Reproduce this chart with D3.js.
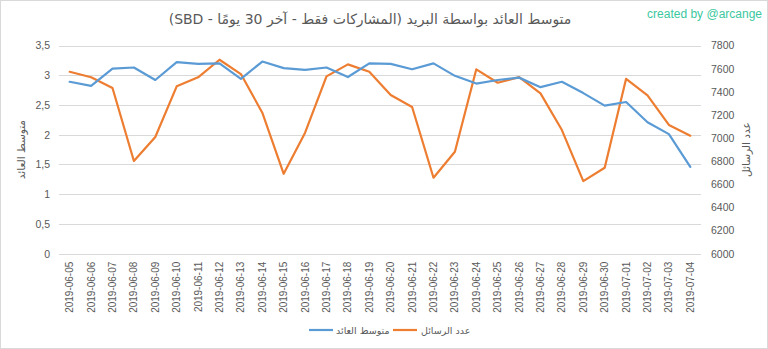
<!DOCTYPE html>
<html><head><meta charset="utf-8">
<script src="https://cdn.jsdelivr.net/npm/d3@7"></script>
<style>
html,body{margin:0;padding:0;background:#fff;}
svg{display:block;font-family:"Liberation Sans",Arial,sans-serif;}
</style></head>
<body>
<script>
const dates = ["2019-06-05","2019-06-06","2019-06-07","2019-06-08","2019-06-09","2019-06-10","2019-06-11","2019-06-12","2019-06-13","2019-06-14","2019-06-15","2019-06-16","2019-06-17","2019-06-18","2019-06-19","2019-06-20","2019-06-21","2019-06-22","2019-06-23","2019-06-24","2019-06-25","2019-06-26","2019-06-27","2019-06-28","2019-06-29","2019-06-30","2019-07-01","2019-07-02","2019-07-03","2019-07-04"];
const avgReward = [2.89,2.82,3.11,3.13,2.92,3.22,3.19,3.20,2.94,3.23,3.12,3.09,3.13,2.97,3.20,3.19,3.10,3.20,2.99,2.86,2.92,2.96,2.80,2.89,2.70,2.49,2.55,2.21,2.01,1.46];
const msgCount = [7573,7525,7432,6801,7009,7447,7525,7677,7553,7219,6691,7046,7533,7637,7573,7372,7268,6657,6882,7594,7478,7527,7386,7069,6628,6743,7512,7369,7113,7020];
const leftTicks = [0,0.5,1,1.5,2,2.5,3,3.5];
const rightTicks = [6000,6200,6400,6600,6800,7000,7200,7400,7600,7800];
const titleText = "متوسط العائد بواسطة البريد (المشاركات فقط - آخر 30 يومًا - SBD)";
const leftTitle = "متوسط العائد";
const rightTitle = "عدد الرسائل";
const creditText = "created by @arcange";

const W = 768, H = 349;
const svg = d3.select("body").append("svg").attr("width", W).attr("height", H);

// chart border
svg.append("rect").attr("x",0.5).attr("y",0.5).attr("width",W-1).attr("height",H-1)
  .attr("fill","#fff").attr("stroke","#d9d9d9");

const plotL = 59, plotR = 701, plotT = 45.5, plotB = 253.7;
const x = d3.scaleBand().domain(dates).range([plotL, plotR]);
const yL = d3.scaleLinear().domain([0,3.5]).range([plotB, plotT]);
const yR = d3.scaleLinear().domain([6000,7800]).range([plotB, plotT]);

// gridlines
svg.append("g").selectAll("line").data(leftTicks).join("line")
  .attr("x1", plotL).attr("x2", plotR)
  .attr("y1", d => Math.round(yL(d))+0.5).attr("y2", d => Math.round(yL(d))+0.5)
  .attr("stroke","#d9d9d9").attr("stroke-width",1);

const fmt = d => String(d).replace(".", ",");
// left axis
const gL = svg.append("g").attr("transform", `translate(${plotL-4},0)`)
  .call(d3.axisLeft(yL).tickValues(leftTicks).tickFormat(fmt).tickSize(0).tickPadding(5));
gL.select(".domain").remove();
gL.selectAll("text").attr("fill","#595959").attr("font-size",10.5);

// right axis
const gR = svg.append("g").attr("transform", `translate(${plotR+6},0)`)
  .call(d3.axisRight(yR).tickValues(rightTicks).tickFormat(d => String(d)).tickSize(0).tickPadding(4));
gR.select(".domain").remove();
gR.selectAll("text").attr("fill","#595959").attr("font-size",10.5);

// x axis
const gX = svg.append("g").attr("transform", `translate(0,${plotB})`)
  .call(d3.axisBottom(x).tickSize(0).tickPadding(0));
gX.select(".domain").remove();
gX.selectAll("text").attr("fill","#595959").attr("font-size",10)
  .attr("text-anchor","end").attr("dy","0.35em")
  .attr("transform","translate(0,8) rotate(-90)").attr("x",0).attr("y",0);

// lines
const cx = d => x(d) + x.bandwidth()/2;
svg.append("path").datum(dates.map((d,i)=>[cx(d), yR(msgCount[i])]))
  .attr("d", d3.line()).attr("fill","none").attr("stroke","#ed7d31").attr("stroke-width",2.2)
  .attr("stroke-linejoin","round").attr("stroke-linecap","round");
svg.append("path").datum(dates.map((d,i)=>[cx(d), yL(avgReward[i])]))
  .attr("d", d3.line()).attr("fill","none").attr("stroke","#5b9bd5").attr("stroke-width",2.2)
  .attr("stroke-linejoin","round").attr("stroke-linecap","round");

// titles
svg.append("text").attr("x",370).attr("y",24).attr("text-anchor","middle")
  .attr("direction","rtl").style("direction","rtl").style("unicode-bidi","embed")
  .attr("font-size",14).attr("fill","#595959").attr("font-family","'DejaVu Sans',sans-serif")
  .text(titleText);
svg.append("text").attr("x",762).attr("y",18).attr("text-anchor","end")
  .attr("font-size",12).attr("fill","#3cc8a0").text(creditText);

svg.append("text").attr("transform",`translate(25,${(plotT+plotB)/2}) rotate(-90)`)
  .attr("text-anchor","middle").attr("font-size",10.5).attr("fill","#595959")
  .attr("font-family","'DejaVu Sans',sans-serif").text(leftTitle);
svg.append("text").attr("transform",`translate(750,${(plotT+plotB)/2}) rotate(-90)`)
  .attr("text-anchor","middle").attr("font-size",10.5).attr("fill","#595959")
  .attr("font-family","'DejaVu Sans',sans-serif").text(rightTitle);

// legend
const legend = [
  {label: leftTitle, color: "#5b9bd5", x1: 309, tx: 336},
  {label: rightTitle, color: "#ed7d31", x1: 393, tx: 421}
];
const lg = svg.append("g");
legend.forEach(l => {
  lg.append("line").attr("x1", l.x1).attr("x2", l.x1+24).attr("y1",330).attr("y2",330)
    .attr("stroke", l.color).attr("stroke-width",2.2);
  lg.append("text").attr("x", l.tx).attr("y",333.5).attr("text-anchor","start")
    .attr("font-size",9.5).attr("fill","#595959").attr("font-family","'DejaVu Sans',sans-serif")
    .attr("direction","ltr").text(l.label);
});
</script>
</body></html>
